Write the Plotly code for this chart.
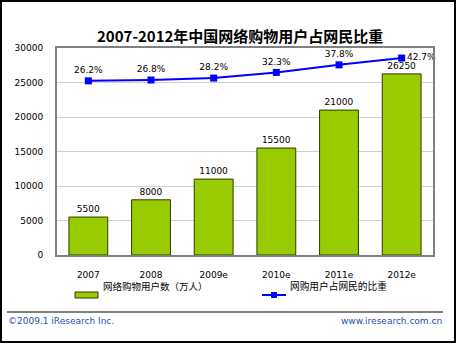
import plotly.graph_objects as go

# Online shopping users in China, 2007-2012 (10k people) and share of netizens
years = ["2007", "2008", "2009e", "2010e", "2011e", "2012e"]
users = [5500, 8000, 11000, 15500, 21000, 26250]
share = [26.2, 26.8, 28.2, 32.3, 37.8, 42.7]
y_ticks = [0, 5000, 10000, 15000, 20000, 25000, 30000]

title = "2007-2012年中国网络购物用户占网民比重"
bar_name = "网络购物用户数（万人）"
line_name = "网购用户占网民的比重"
credit_left = "©2009.1 iResearch Inc."
credit_right = "www.iresearch.com.cn"

W, H = 457, 344
L, R, T, B = 57, 24, 48, 89
pw, ph = W - L - R, H - T - B


def px(x):
    return (x - L) / pw


def py(y):
    return (H - B - y) / ph


font = "Verdana, DejaVu Sans, sans-serif"
cjk = "Noto Sans CJK SC"

fig = go.Figure()
fig.add_trace(go.Bar(
    x=years, y=users, width=0.62,
    marker=dict(color="#99CC00", line=dict(color="#2E3A00", width=1)),
    text=[str(v) for v in users], textposition="outside",
    textfont=dict(family=font, size=9, color="#000000"),
    cliponaxis=False, showlegend=False,
))
fig.add_trace(go.Scatter(
    x=years, y=share, yaxis="y2", mode="lines+markers+text",
    line=dict(color="#0000FF", width=2),
    marker=dict(symbol="square", size=7, color="#0000FF"),
    text=[f"{v}%" for v in share],
    textposition=["top center"] * 5 + ["middle right"],
    textfont=dict(family=font, size=9, color="#000000"),
    cliponaxis=False, showlegend=False,
))

shapes = [
    # outer frame
    dict(type="rect", xref="paper", yref="paper",
         x0=px(1), x1=px(455), y0=py(342), y1=py(1),
         line=dict(color="#000000", width=2)),
    # separator above credits
    dict(type="line", xref="paper", yref="paper",
         x0=px(7), x1=px(443), y0=py(312), y1=py(312),
         line=dict(color="#808080", width=2)),
    # legend keys
    dict(type="rect", xref="paper", yref="paper",
         x0=px(75), x1=px(98), y0=py(298), y1=py(292),
         fillcolor="#99CC00", line=dict(color="#2E3A00", width=1)),
    dict(type="line", xref="paper", yref="paper",
         x0=px(262), x1=px(286), y0=py(295), y1=py(295),
         line=dict(color="#0000FF", width=2)),
    dict(type="rect", xref="paper", yref="paper",
         x0=px(271), x1=px(277), y0=py(298), y1=py(292),
         fillcolor="#0000FF", line=dict(color="#0000FF", width=0)),
]

annotations = [
    dict(text=f"<b>{title}</b>", xref="paper", yref="paper",
         x=px(240), y=py(23), showarrow=False,
         font=dict(family=cjk, size=15, color="#000000")),
    dict(text=bar_name, xref="paper", yref="paper", x=px(101), y=py(295),
         xanchor="left", showarrow=False,
         font=dict(family=cjk, size=9.5, color="#000000")),
    dict(text=line_name, xref="paper", yref="paper", x=px(288), y=py(295),
         xanchor="left", showarrow=False,
         font=dict(family=cjk, size=9.7, color="#000000")),
    dict(text=credit_left, xref="paper", yref="paper", x=px(6), y=py(328),
         xanchor="left", showarrow=False,
         font=dict(family=font, size=9, color="#1E50B4")),
    dict(text=credit_right, xref="paper", yref="paper", x=px(444), y=py(328),
         xanchor="right", showarrow=False,
         font=dict(family=font, size=9, color="#1E50B4")),
]

fig.update_layout(
    width=W, height=H,
    margin=dict(l=L, r=R, t=T, b=B, pad=0),
    paper_bgcolor="#FFFFFF", plot_bgcolor="#FFFFFF",
    xaxis=dict(type="category", showgrid=False, ticks="",
               showline=True, mirror=True, linecolor="#808080", linewidth=2,
               tickfont=dict(family=font, size=9, color="#000000"),
               ticklabelstandoff=10),
    yaxis=dict(range=[0, 30000], tickvals=y_ticks, tickformat="d",
               showgrid=True, gridcolor="#D0D0D0", gridwidth=1,
               zeroline=False, ticks="",
               showline=True, mirror=True, linecolor="#808080", linewidth=2,
               tickfont=dict(family=font, size=9, color="#000000"),
               ticklabelstandoff=10),
    yaxis2=dict(range=[-100, 50], overlaying="y", side="right",
                visible=False, showgrid=False),
    shapes=shapes,
    annotations=annotations,
    showlegend=False,
)

fig.write_html("out.html")
